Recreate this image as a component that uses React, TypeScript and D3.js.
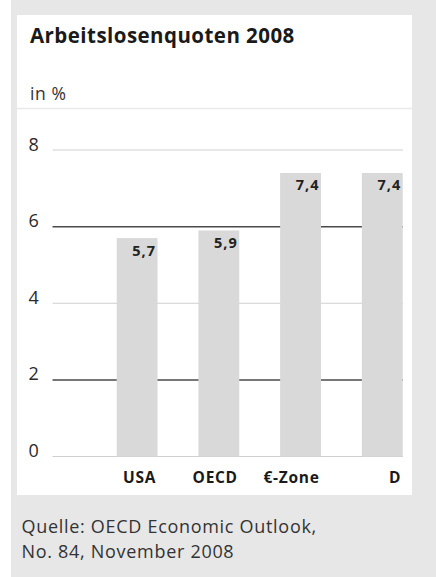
import React from "react";
import * as d3 from "d3";

const categories = ["USA", "OECD", "€-Zone", "D"];
const values = [5.7, 5.9, 7.4, 7.4];
const valueLabels = ["5,7", "5,9", "7,4", "7,4"];
const yTicks = [0, 2, 4, 6, 8];
const darkTicks = [2, 6];

const W = 436;
const H = 577;
const FONT = "'Open Sans', 'Noto Sans', sans-serif";

export default function App() {
  const x = d3.scaleBand<string>().domain(categories).range([116.7, 402.7]).paddingInner(0.5).paddingOuter(0);
  const y = d3.scaleLinear().domain([0, 8]).range([456.5, 150]);
  const gridX0 = 52.5;
  const gridX1 = 403;

  return (
    <div style={{ position: "absolute", left: 0, top: 0 }}>
      <svg width={W} height={H} style={{ display: "block" }} fontFamily={FONT}>
        <rect x={0} y={0} width={W} height={H} fill="#ffffff" />
        <rect x={11} y={0} width={W - 11} height={H} fill="#e7e7e7" />
        <rect x={17} y={15} width={395} height={480} fill="#ffffff" />
        <line x1={17} x2={412} y1={108.5} y2={108.5} stroke="#e9e9e9" strokeWidth={1.5} />

        <text x={30} y={42.5} fontSize={20.5} fontWeight={700} letterSpacing={0.45} fill="#1a1a1a">
          Arbeitslosenquoten 2008
        </text>
        <text x={30} y={100} fontSize={17.5} letterSpacing={0.6} fill="#333">
          in %
        </text>

        {yTicks.map((t) => {
          const dark = darkTicks.includes(t);
          return (
            <g key={t}>
              <line
                x1={gridX0}
                x2={gridX1}
                y1={y(t)}
                y2={y(t)}
                stroke={dark ? "#4a4a4a" : "#cfcfcf"}
                strokeWidth={dark ? 1.5 : 1.2}
              />
              <text x={28.5} y={y(t) + 0.5} fontSize={18} fill="#2a2a2a">
                {t}
              </text>
            </g>
          );
        })}

        {categories.map((c, i) => {
          const bx = x(c)!;
          const bw = x.bandwidth();
          const top = y(values[i]);
          return (
            <g key={c}>
              <rect x={bx} y={top} width={bw} height={y(0) - top} fill="#d9d9d9" />
              <text x={bx + bw - 1.5} y={top + 17.5} fontSize={14.5} fontWeight={700} letterSpacing={1} fill="#222" textAnchor="end">
                {valueLabels[i]}
              </text>
              <text x={bx + bw - 1.5} y={483} fontSize={15.5} fontWeight={700} letterSpacing={0.7} fill="#1a1a1a" textAnchor="end">
                {c}
              </text>
            </g>
          );
        })}

        <text x={21.5} y={533} fontSize={18} letterSpacing={0.7} fill="#333">
          Quelle: OECD Economic Outlook,
        </text>
        <text x={21.5} y={558} fontSize={18} letterSpacing={0.7} fill="#333">
          No. 84, November 2008
        </text>
      </svg>
    </div>
  );
}
